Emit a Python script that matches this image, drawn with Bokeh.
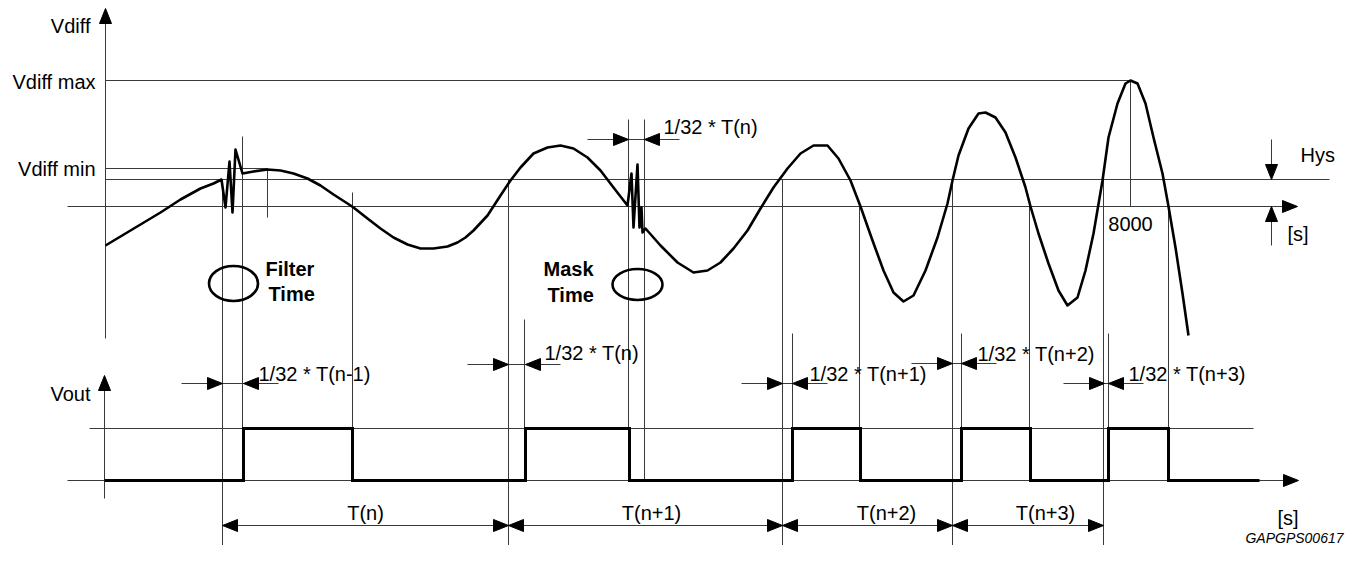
from bokeh.plotting import figure
from bokeh.models import Range1d
from bokeh.embed import file_html
from bokeh.resources import INLINE
from bokeh.core.properties import value

# ---------------- data (diagram units) ----------------
# Vdiff waveform: time position / level position (level grows downward in the drawing)
curve_t = [105, 120, 140, 160, 180, 200, 213, 221,
           225, 229, 232, 235, 242,
           253, 267, 280, 293, 307, 320, 333, 347, 353, 367, 380, 393, 407, 420, 433, 447,
           457, 465, 473, 487, 500, 510, 520, 533, 547, 560, 573, 587, 600, 613, 627,
           631, 633, 637, 639, 641, 642, 645,
           660, 677, 693, 707, 720, 733, 747, 760, 773, 787, 800, 813, 827,
           838, 850, 860, 872, 883, 893, 903, 913, 925, 937, 947, 952, 958, 968, 978, 985,
           995, 1005, 1015, 1025, 1030, 1038, 1048, 1058, 1067, 1077, 1085, 1093, 1102,
           1108, 1117, 1125, 1130, 1137, 1145, 1153, 1162, 1168, 1175, 1182, 1188]
curve_v = [245, 236, 224, 212, 199, 188, 183, 179,
           207, 161, 212, 149, 173,
           171, 169, 170, 173, 178, 185, 194, 203, 207, 218, 228, 237, 244, 248, 248, 246,
           242, 237, 230, 215, 195, 180, 167, 153, 147, 145, 148, 157, 170, 187, 205,
           173, 227, 164, 227, 207, 232, 228,
           245, 262, 272, 270, 262, 248, 230, 208, 187, 168, 153, 145, 145,
           158, 180, 206, 240, 270, 292, 301, 295, 270, 237, 203, 180, 155, 128, 113, 112,
           117, 132, 157, 187, 206, 233, 263, 290, 305, 297, 270, 233, 180,
           137, 103, 83, 80, 83, 103, 137, 173, 206, 247, 293, 335]

# reference levels
level_names = ["Vdiff max", "Vdiff min"]
level_values = [80, 168]
hys_level = 179
zero_level = 206
vout_high = 428
vout_low = 480
peak_t = 1130
peak_label = "8000"

# Vout switching instants
rising_t = [243, 525, 792, 961, 1108]
falling_t = [352, 629, 860, 1030, 1168]
vout_start, vout_end = 104, 1259

# period boundaries and labels
period_t = [222, 508, 782, 952, 1103]
period_labels = ["T(n)", "T(n+1)", "T(n+2)", "T(n+3)"]
period_label_t = [365, 651, 886, 1045]
period_dim_y = 525
period_label_y = 512

# 1/32 * T dimensions: left boundary, right boundary, level, label, label position
mask_left = [222, 628, 508, 782, 952, 1104]
mask_right = [243, 644, 525, 792, 961, 1108]
mask_level = [383, 139, 364, 383, 363, 383]
mask_labels = ["1/32 * T(n-1)", "1/32 * T(n)", "1/32 * T(n)", "1/32 * T(n+1)",
               "1/32 * T(n+2)", "1/32 * T(n+3)"]
mask_label_t = [258, 663, 544, 809, 977, 1128]
mask_label_y = [373, 126, 352, 373, 353, 373]

# guide (extension) lines: position, from, to
guide_t = [222, 242, 267, 352, 508, 524, 628, 644, 782, 792, 859, 952, 961, 1029, 1103, 1108, 1168, 1130]
guide_a = [179, 136, 168, 192, 179, 319, 119, 119, 179, 333, 206, 179, 333, 206, 179, 333, 206, 80]
guide_b = [548, 428, 217, 428, 548, 428, 480, 480, 548, 428, 428, 548, 428, 428, 548, 428, 428, 206]

# ellipses marking filter/mask time
ell_t = [233, 637]
ell_v = [283, 284]
ell_w = [49, 50]
ell_h = [35, 31]
ell_title = [["Filter", "Time"], ["Mask", "Time"]]
ell_title_t = [[265, 268], [543, 547]]
ell_title_y = [[268, 293], [268, 294]]

# ---------------- drawing ----------------
W, H = 1345, 545
p = figure(width=W, height=H, x_range=Range1d(0, W), y_range=Range1d(H, 0),
           output_backend="svg", toolbar_location=None, x_axis_type=None, y_axis_type=None,
           min_border=0)
p.grid.visible = False
p.outline_line_color = None
p.background_fill_color = "white"
p.border_fill_color = "white"

THIN = "#3a3a3a"
FONT = value("Liberation Sans")
FS = value("20px")

seg_x0, seg_y0, seg_x1, seg_y1 = [], [], [], []
def seg(a, b, c, d):
    seg_x0.append(a); seg_y0.append(b); seg_x1.append(c); seg_y1.append(d)

tri_xs, tri_ys = [], []
AL, AW = 15, 6
def head(tx, ty, direction):
    if direction == "right":
        tri_xs.append([tx, tx - AL, tx - AL]); tri_ys.append([ty, ty - AW, ty + AW])
    elif direction == "left":
        tri_xs.append([tx, tx + AL, tx + AL]); tri_ys.append([ty, ty - AW, ty + AW])
    elif direction == "up":
        tri_xs.append([tx, tx - AW, tx + AW]); tri_ys.append([ty, ty + AL, ty + AL])
    else:
        tri_xs.append([tx, tx - AW, tx + AW]); tri_ys.append([ty, ty - AL, ty - AL])

# axes
seg(105, 338, 105, 20); head(105, 8, "up")
seg(104, 498, 104, 386); head(104, 375, "up")
# levels
seg(105, level_values[0], peak_t, level_values[0])
seg(105, level_values[1], 267, level_values[1])
seg(105, hys_level, 1329, hys_level)
seg(67, zero_level, 1285, zero_level); head(1297, zero_level, "right")
seg(89, vout_high, 1253, vout_high)
seg(67, vout_low, 1285, vout_low); head(1298, vout_low, "right")
# hysteresis arrows
seg(1271, 139, 1271, 165); head(1271, hys_level, "down")
seg(1271, 245, 1271, 218); head(1271, zero_level, "up")
# guide lines
for t, a, b in zip(guide_t, guide_a, guide_b):
    seg(t, a, t, b)
# 1/32 dimensions
for l, r, y in zip(mask_left, mask_right, mask_level):
    seg(l - 41, y, r + 35, y)
    head(l, y, "right"); head(r, y, "left")
# period dimensions
for a, b in zip(period_t[:-1], period_t[1:]):
    seg(a, period_dim_y, b, period_dim_y)
    head(a, period_dim_y, "left"); head(b, period_dim_y, "right")

p.segment(seg_x0, seg_y0, seg_x1, seg_y1, line_color=THIN, line_width=1)
p.patches(tri_xs, tri_ys, fill_color="black", line_color="black", line_width=1)

# Vdiff curve
p.line(curve_t, curve_v, line_color="black", line_width=2.6, line_join="round")

# Vout signal
vx, vy = [vout_start], [vout_low]
for r, f in zip(rising_t, falling_t):
    vx += [r, r, f, f]; vy += [vout_low, vout_high, vout_high, vout_low]
vx.append(vout_end); vy.append(vout_low)
p.line(vx, vy, line_color="black", line_width=3, line_join="miter")

# ellipses
p.ellipse(ell_t, ell_v, width=ell_w, height=ell_h, fill_color=None, line_color="black", line_width=2.6)

# texts
def txt(xs, ys, labels, align="left", size=FS, style="normal", font=FONT, baseline="middle"):
    p.text(xs, ys, text=labels, text_font=font, text_font_size=size, text_align=align,
           text_baseline=baseline, text_font_style=style, text_color="black")

txt([90], [25], ["Vdiff"], align="right")
txt([95, 95], [81, 168], level_names, align="right")
txt([90], [393], ["Vout"], align="right")
txt([1300], [154], ["Hys"])
txt([1287], [233], ["[s]"])
txt([1277], [517], ["[s]"])
txt([peak_t], [223], [peak_label], align="center")
txt(mask_label_t, mask_label_y, mask_labels)
txt(period_label_t, period_label_y, period_labels, align="center")
for lab, lt, ly in zip(ell_title, ell_title_t, ell_title_y):
    txt(lt, ly, lab, style="bold")
txt([1343], [537], ["GAPGPS00617"], align="right", size=value("14px"), style="italic")

open("out.html", "w").write(file_html(p, INLINE))
